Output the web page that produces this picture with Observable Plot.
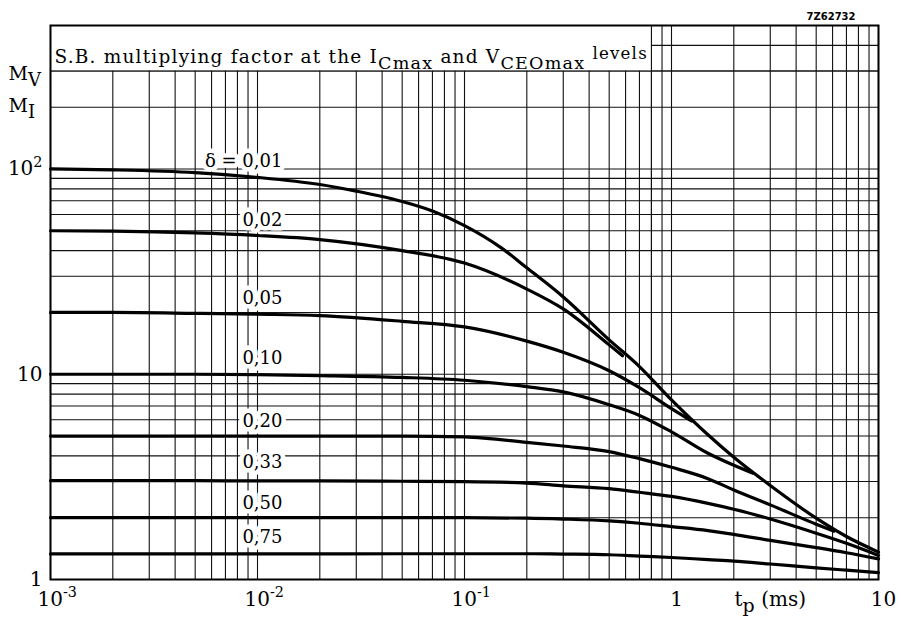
<!DOCTYPE html>
<html>
<head>
<meta charset="utf-8">
<script src="https://cdn.jsdelivr.net/npm/d3@7"></script>
<script src="https://cdn.jsdelivr.net/npm/@observablehq/plot@0.6"></script>
<style>
  html, body { margin: 0; padding: 0; background: white; }
  #chart { width: 902px; height: 617px; }
</style>
</head>
<body>
<div id="chart"></div>
<script>
// ---- data (t_p in ms, multiplying factor M) ----
const tAll = [0.001, 0.002, 0.005, 0.01, 0.02, 0.05, 0.1, 0.2, 0.3, 0.5, 0.7, 1, 1.5, 2, 3, 5, 7, 10];

const t001 = [0.001, 0.002, 0.005, 0.01, 0.02, 0.03, 0.05, 0.07, 0.1, 0.15, 0.2, 0.3, 0.5, 0.7, 1, 1.5, 2, 3, 5, 7, 10];
const m001 = [100, 99, 96, 91, 84, 78, 69.4, 62.4, 53, 41.4, 33, 23.8, 14.7, 10.9, 7.5, 5.07, 3.94, 2.87, 1.99, 1.62, 1.36];

const t002 = [0.001, 0.002, 0.005, 0.01, 0.02, 0.05, 0.1, 0.2, 0.3, 0.5, 0.58];
const m002 = [50, 49.8, 48.8, 47.4, 45.3, 40, 34.8, 26, 20.8, 13.9, 12.3];

const t005 = [0.001, 0.002, 0.005, 0.01, 0.02, 0.05, 0.1, 0.2, 0.3, 0.5, 0.7, 1, 1.25];
const m005 = [20, 20, 19.8, 19.6, 19.3, 18.1, 17.0, 14.5, 12.8, 10.4, 8.6, 6.8, 5.92];

const t010 = [0.001, 0.002, 0.005, 0.01, 0.02, 0.05, 0.1, 0.2, 0.3, 0.5, 0.7, 1, 1.5, 2, 2.46];
const m010 = [10, 10, 10, 9.95, 9.85, 9.65, 9.35, 8.7, 8.2, 7.1, 6.3, 5.24, 4.12, 3.6, 3.3];

const t020 = [0.001, 0.002, 0.005, 0.01, 0.02, 0.05, 0.1, 0.2, 0.3, 0.5, 0.7, 1, 1.5, 2, 3, 5, 6.1];
const m020 = [5, 5, 5, 5, 5, 5, 4.95, 4.66, 4.47, 4.2, 3.88, 3.52, 3.1, 2.73, 2.31, 1.86, 1.72];

const m033 = [3.03, 3.03, 3.03, 3.02, 3.02, 3.01, 3.0, 2.95, 2.86, 2.77, 2.66, 2.54, 2.35, 2.2, 1.97, 1.68, 1.5, 1.31];
const m050 = [2, 2, 2, 2, 2, 2, 2, 1.99, 1.97, 1.93, 1.88, 1.81, 1.73, 1.66, 1.55, 1.43, 1.35, 1.26];
const m075 = [1.333, 1.333, 1.333, 1.333, 1.334, 1.335, 1.335, 1.335, 1.33, 1.32, 1.30, 1.28, 1.25, 1.23, 1.19, 1.14, 1.11, 1.08];

const seriesNames  = ["0,01", "0,02", "0,05", "0,10", "0,20", "0,33", "0,50", "0,75"];
const seriesT      = [t001, t002, t005, t010, t020, tAll, tAll, tAll];
const seriesM      = [m001, m002, m005, m010, m020, m033, m050, m075];

// curve labels
const curveLabels = ["δ = 0,01", "0,02", "0,05", "0,10", "0,20", "0,33", "0,50", "0,75"];
const curveLabelM = [109, 56, 23.5, 11.9, 5.9, 3.72, 2.34, 1.61];
const curveLabelT = 0.0132;

// axis ticks
const xPowTicks  = [0.001, 0.01, 0.1];
const xPowLabels = ["10^{-3}", "10^{-2}", "10^{-1}"];
const xNumTicks  = [1, 10];
const xNumLabels = ["1", "10"];
const yTicks     = [1, 10, 100];
const yLabels    = ["1", "10", "10^{2}"];
const xTitle     = "t_{p} (ms)";
const xTitleAt   = 3;
const yTitles    = ["M_{V}", "M_{I}"];
const chartTitle = "S.B. multiplying factor at the I_{Cmax} and V_{CEOmax} ~{levels}";
const chartCode  = "7Z62732";

// log grid lines
const decadesX = [0.001, 0.01, 0.1, 1];
const xGrid = decadesX.flatMap(d => [1,2,3,4,5,6,7,8,9].map(k => k * d)).concat([10]);
const yGrid = [1, 10].flatMap(d => [1,2,3,4,5,6,7,8,9].map(k => k * d)).concat([100, 200, 300, 400, 500]);

// ---- build table ----
const rows = [];
seriesNames.forEach((name, i) => {
  seriesT[i].forEach((t, j) => rows.push({series: name, t, m: seriesM[i][j]}));
});
const labelRows = curveLabels.map((text, i) => ({text, m: curveLabelM[i], t: curveLabelT}));

const ink = "#111";
const labelOpts = {x: "t", y: "m", text: "text", textAnchor: "end", fontSize: 18};

const plot = Plot.plot({
  width: 902,
  height: 617,
  marginLeft: 50,
  marginRight: 24,
  marginTop: 25,
  marginBottom: 38,
  x: {type: "log", domain: [0.001, 10], axis: null},
  y: {type: "log", domain: [1, 500], axis: null},
  style: {fontFamily: "'DejaVu Serif', serif", background: "white", color: ink},
  marks: [
    Plot.ruleX(xGrid, {stroke: ink, strokeWidth: 1.1}),
    Plot.ruleY(yGrid, {stroke: ink, strokeWidth: 1.1}),
    // white title box over the grid
    Plot.rect([{a: 0.001, b: 0.8, c: 300, d: 500}], {x1: "a", x2: "b", y1: "c", y2: "d", fill: "white"}),
    Plot.ruleY([300], {stroke: ink, strokeWidth: 1.1}),
    Plot.ruleX([0.8], {stroke: ink, strokeWidth: 1.1}),
    // white knock-out behind the curve labels
    Plot.text(labelRows, {...labelOpts, fill: "white", stroke: "white", strokeWidth: 9, strokeLinejoin: "round"}),
    // curves
    Plot.line(rows, {x: "t", y: "m", z: "series", stroke: "black", strokeWidth: 3.2, curve: "monotone-x"}),
    // curve labels
    Plot.text(labelRows, {...labelOpts, fill: "black"}),
    Plot.frame({stroke: "black", strokeWidth: 2}),
    // title inside the plot
    Plot.text([chartTitle], {text: d => d, frameAnchor: "top-left", dx: 4, dy: 24, textAnchor: "start",
      fontSize: 18.5, fill: "black"}),
    Plot.text([chartCode], {text: d => d, frameAnchor: "top-right", dx: -23, dy: -13, textAnchor: "end",
      fontSize: 10, fontFamily: "'DejaVu Sans', sans-serif", fontWeight: "bold", fill: "black"}),
    // x tick labels
    Plot.text(xPowTicks, {x: d => d, text: (d, i) => xPowLabels[i], frameAnchor: "bottom", dy: 26,
      dx: -13, textAnchor: "start", fontSize: 20, fill: "black"}),
    Plot.text(xNumTicks, {x: d => d, text: (d, i) => xNumLabels[i], frameAnchor: "bottom", dy: 26,
      dx: 5, textAnchor: "middle", fontSize: 20, fill: "black"}),
    Plot.text([xTitleAt], {x: d => d, text: () => xTitle, frameAnchor: "bottom", dy: 26,
      textAnchor: "middle", fontSize: 20, fill: "black"}),
    // y tick labels
    Plot.text(yTicks, {y: d => d, text: (d, i) => yLabels[i], frameAnchor: "left", dx: -8,
      textAnchor: "end", fontSize: 20, fill: "black"}),
    // y titles
    Plot.text([yTitles[0]], {text: d => d, frameAnchor: "top-left", dx: -42, dy: 41, textAnchor: "start",
      fontSize: 19, fill: "black"}),
    Plot.text([yTitles[1]], {text: d => d, frameAnchor: "top-left", dx: -42, dy: 73, textAnchor: "start",
      fontSize: 19, fill: "black"})
  ]
});

document.getElementById("chart").appendChild(plot);

// turn _{..} / ^{..} / ~{..} markup into tspans
function richify(svg) {
  svg.querySelectorAll("text").forEach(t => {
    const s = t.textContent;
    if (!/[_^~]\{/.test(s)) return;
    if (s.startsWith("S.B.")) t.style.letterSpacing = "1.2px";
    const fs = parseFloat(getComputedStyle(t).fontSize) || 16;
    t.textContent = "";
    const re = /([_^~])\{([^}]*)\}|([^_^~]+)/g;
    let shift = 0, m;
    while ((m = re.exec(s))) {
      const ts = document.createElementNS("http://www.w3.org/2000/svg", "tspan");
      let target = 0, size = fs;
      if (m[1] === "_") { target = 0.32 * fs; size = 0.95 * fs; }
      else if (m[1] === "^") { target = -0.42 * fs; size = 0.72 * fs; }
      else if (m[1] === "~") { target = -0.22 * fs; size = 0.9 * fs; }
      ts.setAttribute("dy", (target - shift).toFixed(2));
      ts.setAttribute("font-size", size.toFixed(2));
      shift = target;
      ts.textContent = m[1] ? m[2] : m[3];
      t.appendChild(ts);
    }
  });
}
richify(plot);
</script>
</body>
</html>
